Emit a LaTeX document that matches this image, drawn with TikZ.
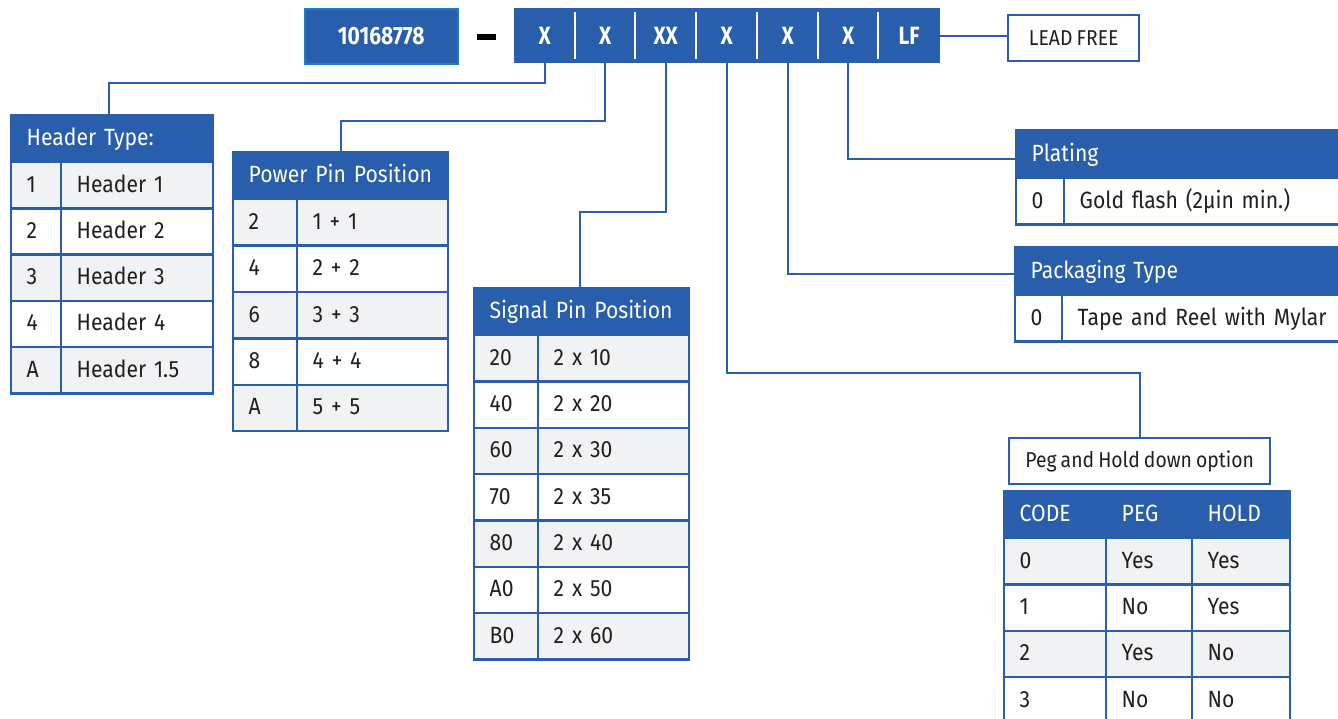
\documentclass[tikz,border=0pt]{standalone}
\usepackage{fontspec}
\setmainfont{Fira Sans}[FakeStretch=0.9,WordSpace=0.8]
\newfontfamily\codefont[FakeStretch=0.84]{Fira Sans}
\definecolor{pnblue}{HTML}{285EAC}
\definecolor{pnedge}{HTML}{1E7CC6}
\definecolor{pngrey}{HTML}{F1F2F4}
\definecolor{pntext}{HTML}{231F20}
\tikzset{
  cell/.style={draw=pnblue, line width=2.4pt, anchor=north west, inner xsep=15.5pt, inner ysep=0pt,
    minimum width=#1pt, text width=#1pt-31pt, align=left, minimum height=46.3pt,
    text height=19pt, text depth=5pt,
    execute at begin node=\hbox\bgroup, execute at end node=\egroup},
  hdr/.style={cell=#1, fill=pnblue, text=white, minimum height=47pt},
  codebox/.style={fill=pnblue, text=white, anchor=north west, minimum height=55pt, inner sep=0pt,
    font=\codefont\bfseries\fontsize{25}{27}\selectfont},
  tagbox/.style={draw=pnblue, line width=2.4pt, fill=white, anchor=north west, inner sep=0pt,
    minimum height=46pt, font=\fontsize{21.5}{24}\selectfont},
  conn/.style={draw=pnblue, line width=2pt}
}
\begin{document}
\begin{tikzpicture}[x=1pt,y=-1pt,every node/.style={text=pntext,font=\fontsize{23.5}{26}\selectfont}]
  \clip (0,0) rectangle (1338,718);
  % part number
  \node[codebox, draw=pnedge, line width=1.5pt, minimum width=153pt] (pn) at (304,8) {10168778};
  \node[text=black] (dash) at (486.5,37) {\rule{19pt}{6.5pt}};
  \foreach \t/\x/\w [count=\i] in {X/514/61,X/575/60,XX/635/61,X/696/61,X/757/61,X/818/60,LF/878/62}
    \node[codebox, minimum width=\w pt] (c\i) at (\x,8) {\t};
  \foreach \i in {1,...,6}
    \draw[white, line width=2pt] ([yshift=-4pt]c\i.north east) -- ([yshift=4pt]c\i.south east);
  \node[tagbox, minimum width=131pt] (lf) at (1007,14) {LEAD FREE};

  % header type
  \node[hdr=202] (ht) at (10,114) {Header Type:};
  \foreach \a/\b [count=\i] in {1/Header 1,2/Header 2,3/Header 3,4/Header 4,A/Header 1.5}{
    \ifodd\i \def\rowfill{pngrey}\else \def\rowfill{white}\fi
    \node[cell=50, fill=\rowfill] (hta\i) at (10,{161+(\i-1)*46.2}) {\a};
    \node[cell=152, fill=\rowfill] (htb\i) at (60,{161+(\i-1)*46.2}) {\b};
  }

  % power pin
  \node[hdr=215] (pp) at (232,151) {Power Pin Position};
  \foreach \a/\b [count=\i] in {2/1 + 1,4/2 + 2,6/3 + 3,8/4 + 4,A/5 + 5}{
    \ifodd\i \def\rowfill{pngrey}\else \def\rowfill{white}\fi
    \node[cell=64, fill=\rowfill] (ppa\i) at (232,{198+(\i-1)*46.4}) {\a};
    \node[cell=151, fill=\rowfill] (ppb\i) at (296,{198+(\i-1)*46.4}) {\b};
  }

  % signal pin
  \node[hdr=215] (sp) at (473,287) {Signal Pin Position};
  \foreach \a/\b [count=\i] in {20/2 x 10,40/2 x 20,60/2 x 30,70/2 x 35,80/2 x 40,A0/2 x 50,B0/2 x 60}{
    \ifodd\i \def\rowfill{pngrey}\else \def\rowfill{white}\fi
    \node[cell=64, fill=\rowfill] (spa\i) at (473,{334+(\i-1)*46.3}) {\a};
    \node[cell=151, fill=\rowfill] (spb\i) at (537,{334+(\i-1)*46.3}) {\b};
  }

  % plating, packaging
  \node[hdr=330, minimum height=48pt] (pl) at (1015,129) {Plating};
  \node[cell=48, fill=white] (pla) at (1015,177) {0};
  \node[cell=282, fill=white] (plb) at (1063,177) {Gold flash (2µin min.)};
  \node[hdr=331, minimum height=48pt] (pk) at (1014,246) {Packaging Type};
  \node[cell=47, fill=white] (pka) at (1014,294) {0};
  \node[cell=284, fill=white] (pkb) at (1061,294) {Tape and Reel with Mylar};

  % peg and hold down
  \node[tagbox, minimum width=261pt] (pg) at (1008,437) {Peg and Hold down option};
  \node[hdr=102] (pgh1) at (1003,490) {CODE};
  \node[hdr=86] (pgh2) at (1105,490) {PEG};
  \node[hdr=98] (pgh3) at (1191,490) {HOLD};
  \foreach \a/\b/\c [count=\i] in {0/Yes/Yes,1/No/Yes,2/Yes/No,3/No/No}{
    \ifodd\i \def\rowfill{pngrey}\else \def\rowfill{white}\fi
    \node[cell=102, fill=\rowfill] (pga\i) at (1003,{537+(\i-1)*46.3}) {\a};
    \node[cell=86, fill=\rowfill] (pgb\i) at (1105,{537+(\i-1)*46.3}) {\b};
    \node[cell=98, fill=\rowfill] (pgc\i) at (1191,{537+(\i-1)*46.3}) {\c};
  }

  % connectors
  \draw[conn] (c1.south) -- ++(0,20) -| ([xshift=-3pt]ht.north);
  \draw[conn] (c2.south) -- ++(0,58) -| (pp.north);
  \draw[conn] (c3.south) -- ++(0,149) -| ([xshift=-2pt]sp.north);
  \draw[conn] (c4.south) -- ++(0,310) -| (pg.north);
  \draw[conn] (c5.south) |- ([yshift=-3pt]pk.west);
  \draw[conn] (c6.south) |- ([yshift=-5pt]pl.west);
  \draw[conn] (c7.east) -- (c7.east -| lf.west);
\end{tikzpicture}
\end{document}
